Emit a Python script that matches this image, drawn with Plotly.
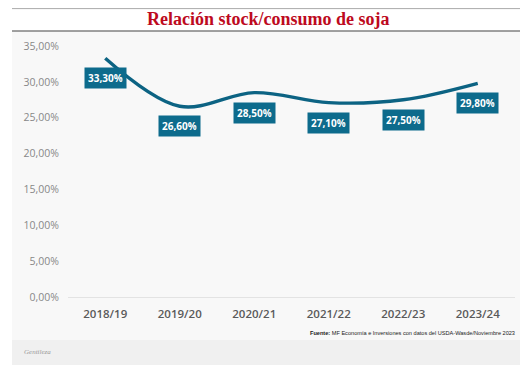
import plotly.graph_objects as go

campaigns = ["2018/19", "2019/20", "2020/21", "2021/22", "2022/23", "2023/24"]
ratio_pct = [33.3, 26.6, 28.5, 27.1, 27.5, 29.8]
y_ticks = [0, 5, 10, 15, 20, 25, 30, 35]

title_text = "Relación stock/consumo de soja"
source_text = "<b>Fuente:</b> MF Economía e Inversiones con datos del USDA-Wasde/Noviembre 2023"
credit_text = "<i>Gentileza</i>"

LINE = "#0c6383"
BOX = "#0d6b8c"

def fmt(v):
    return f"{v:.2f}".replace(".", ",") + "%"

# page body has an 8px margin: build the figure in reference pixels minus 8
OFF = 8
W, H = 524, 357
L, R, T, B = 68 - OFF, 17, 46 - OFF, 68
pw, ph = W - L - R, H - T - B

def px_x(x):
    return (x - OFF - L) / pw

def px_y(y):
    return (H - B - (y - OFF)) / ph

fig = go.Figure()
fig.add_trace(go.Scatter(
    x=campaigns, y=ratio_pct, mode="lines",
    line=dict(color=LINE, width=3.4, shape="spline", smoothing=1.0),
    hoverinfo="skip", showlegend=False,
))

annotations = []
for c, v in zip(campaigns, ratio_pct):
    annotations.append(dict(
        x=c, y=v, xref="x", yref="y", text=f"<b>{fmt(v)}</b>",
        showarrow=False, yshift=-20, bgcolor=BOX, borderpad=3, height=14,
        font=dict(family="Open Sans", size=10, color="white"),
    ))

annotations.append(dict(x=px_x(268), y=px_y(19), xref="paper", yref="paper",
                        xanchor="center", yanchor="middle",
                        text=f"<b>{title_text}</b>", showarrow=False,
                        font=dict(family="Liberation Serif", size=18, color="#bd0a1e")))
annotations.append(dict(x=px_x(517), y=px_y(333), xref="paper", yref="paper",
                        xanchor="right", yanchor="middle",
                        text=source_text, showarrow=False,
                        font=dict(family="Liberation Sans", size=5.6, color="#222")))
annotations.append(dict(x=px_x(22), y=px_y(352), xref="paper", yref="paper",
                        xanchor="left", yanchor="middle",
                        text=credit_text, showarrow=False,
                        font=dict(family="Liberation Serif", size=7, color="#999")))

shapes = [
    dict(type="rect", xref="paper", yref="paper", x0=px_x(12), x1=px_x(520), y0=px_y(340), y1=px_y(31),
         fillcolor="#f8f8f8", line=dict(width=0), layer="below"),
    dict(type="rect", xref="paper", yref="paper", x0=px_x(12), x1=px_x(520), y0=px_y(368), y1=px_y(340),
         fillcolor="#f0f0f0", line=dict(width=0), layer="below"),
    dict(type="line", xref="paper", yref="paper", x0=px_x(12), x1=px_x(520), y0=px_y(8.6), y1=px_y(8.6),
         line=dict(color="#aaaaaa", width=1)),
    dict(type="line", xref="paper", yref="paper", x0=px_x(12), x1=px_x(520), y0=px_y(31), y1=px_y(31),
         line=dict(color="#444444", width=1.2)),
]

fig.update_layout(
    width=W, height=H,
    margin=dict(l=L, r=R, t=T, b=B),
    paper_bgcolor="white", plot_bgcolor="rgba(0,0,0,0)",
    showlegend=False,
    xaxis=dict(
        type="category", range=[-0.5, 5.5], showgrid=False, zeroline=False,
        showline=False, ticks="", ticklabelstandoff=8,
        tickfont=dict(family="Open Sans", size=11.5, color="#5a5a5a", weight=600),
    ),
    yaxis=dict(
        range=[0, 35], tickvals=y_ticks, ticktext=[fmt(v) for v in y_ticks],
        showgrid=False, zeroline=True, zerolinecolor="#e3e3e3", zerolinewidth=1,
        showline=False, ticks="", ticklabelstandoff=8,
        tickfont=dict(family="Open Sans", size=10.5, color="#888"),
    ),
    annotations=annotations,
    shapes=shapes,
)

fig.write_html("out.html")
